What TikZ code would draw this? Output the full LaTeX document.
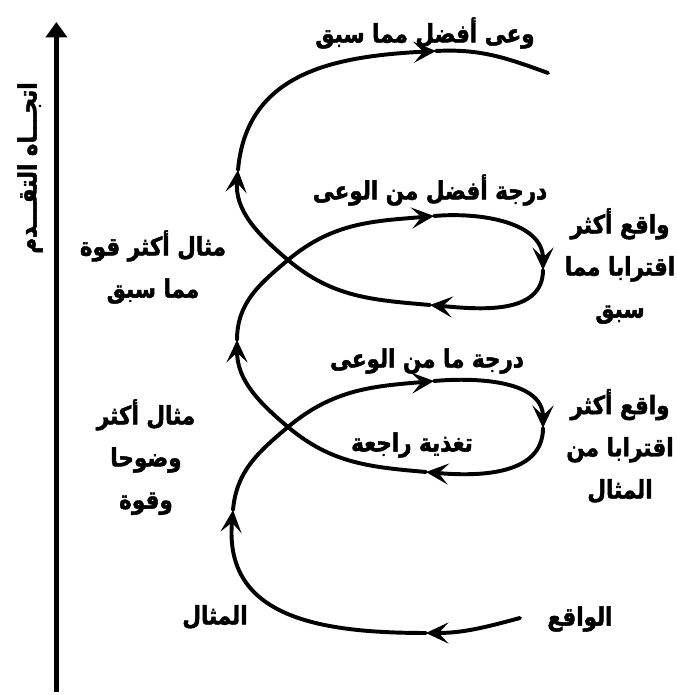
\documentclass[tikz,border=0pt]{standalone}
\usepackage{fontspec}
\newfontfamily\arabicfont[Script=Arabic, FakeStretch=0.85, BoldFeatures={FakeBold=1.8}]{DejaVu Sans}
\TeXXeTstate=1
\usetikzlibrary{arrows.meta}
\newcommand{\artext}[1]{\beginR #1\endR}
\tikzset{
  phrase/.style={font=\arabicfont\bfseries\fontsize{18}{30}\selectfont, align=center, inner sep=0pt, text=black},
  axisline/.style={line width=3.5pt, -{Triangle[length=11pt,width=15pt]}},
  spiral/.style={line width=2.8pt, line cap=round},
  spiralarrow/.style={spiral, -{Stealth[length=16pt,width=15pt,inset=7pt]}},
}
\begin{document}
\begin{tikzpicture}[x=1cm,y=1cm]
  \useasboundingbox (0,0) rectangle (16.925,17.375);

  % progress axis
  \coordinate (axisbottom) at (1.41,0.075);
  \coordinate (axistop) at (1.41,16.825);
  \draw[axisline] (axisbottom) -- (axistop);
  \node[phrase, rotate=90] (progress) at (0.75,13.175) {\artext{اتجـــاه التقـــدم}};

  % turning points of the spiral
  \coordinate (p0) at (13.00,1.925);
  \coordinate (a1) at (10.65,1.55);
  \coordinate (a2) at (5.825,4.625);
  \coordinate (c1) at (7.20,6.70);
  \coordinate (a3) at (10.85,7.85);
  \coordinate (a4) at (13.575,6.675);
  \coordinate (a5) at (10.65,5.575);
  \coordinate (a6) at (5.925,8.875);
  \coordinate (c2) at (7.20,10.875);
  \coordinate (a7) at (10.85,11.975);
  \coordinate (a8) at (13.575,10.625);
  \coordinate (a9) at (10.75,9.75);
  \coordinate (a10) at (5.95,13.125);
  \coordinate (a11) at (10.90,16.10);
  \coordinate (p1) at (13.70,15.55);

  \draw[spiralarrow] (p0) to[out=195,in=0] (a1);
  \draw[spiralarrow] (a1) to[out=180,in=-95,looseness=1.2] (a2);
  \draw[spiral] (a2) to[out=85,in=220] (c1);
  \draw[spiralarrow] (c1) to[out=40,in=185] (a3);
  \draw[spiralarrow] (a3) to[out=5,in=90] (a4);
  \draw[spiralarrow] (a4) to[out=-90,in=-5] (a5);
  \draw[spiral] (a5) to[out=175,in=-40] (c1);
  \draw[spiralarrow] (c1) to[out=140,in=-90] (a6);
  \draw[spiral] (a6) to[out=90,in=220] (c2);
  \draw[spiralarrow] (c2) to[out=40,in=185] (a7);
  \draw[spiralarrow] (a7) to[out=5,in=90] (a8);
  \draw[spiralarrow] (a8) to[out=-90,in=-5] (a9);
  \draw[spiral] (a9) to[out=175,in=-40] (c2);
  \draw[spiralarrow] (c2) to[out=140,in=-95] (a10);
  \draw[spiralarrow] (a10) to[out=85,in=183,looseness=1.1] (a11);
  \draw[spiral] (a11) to[out=3,in=160] (p1);

  \node[phrase] (aware3) at (10.625,16.55) {\artext{وعى أفضل مما سبق}};
  \node[phrase] (aware2) at (10.75,12.625) {\artext{درجة أفضل من الوعى}};
  \node[phrase] (aware1) at (10.675,8.35) {\artext{درجة ما من الوعى}};
  \node[phrase] (feedback) at (10.30,6.25) {\artext{تغذية راجعة}};

  \node[phrase] (real2) at (15.50,10.725) {\artext{واقع أكثر}\\ \artext{اقترابا مما}\\ \artext{سبق}};
  \node[phrase] (real1) at (15.50,6.225) {\artext{واقع أكثر}\\ \artext{اقترابا من}\\ \artext{المثال}};
  \node[phrase] (ideal2) at (3.825,10.70) {\artext{مثال أكثر قوة}\\ \artext{مما سبق}};
  \node[phrase] (ideal1) at (3.65,5.95) {\artext{مثال أكثر}\\ \artext{وضوحا}\\ \artext{وقوة}};

  \node[phrase] (ideal) at (5.375,1.95) {\artext{المثال}};
  \node[phrase] (real) at (14.50,1.90) {\artext{الواقع}};
\end{tikzpicture}
\end{document}
